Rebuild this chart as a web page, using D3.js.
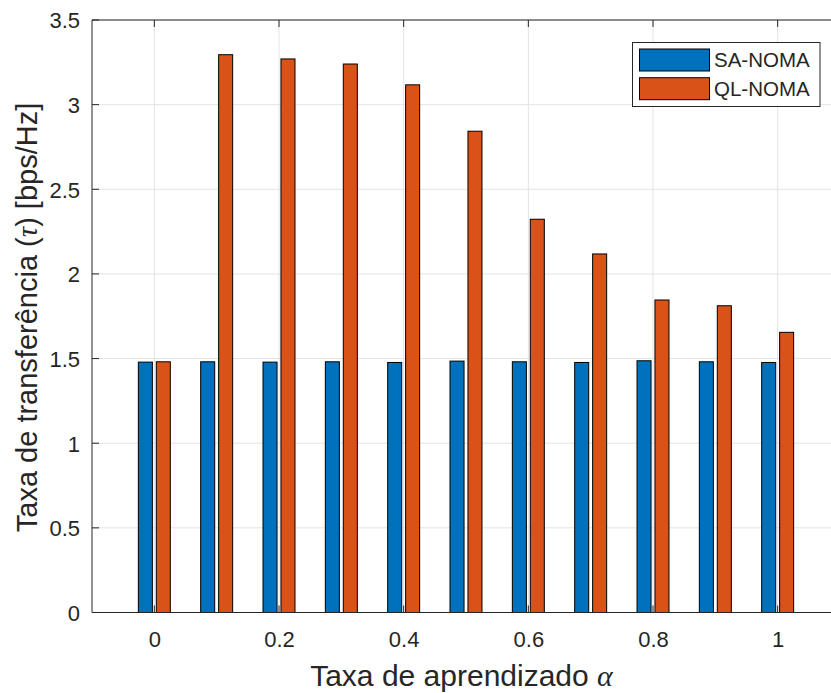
<!DOCTYPE html>
<html>
<head>
<meta charset="utf-8">
<script src="https://cdn.jsdelivr.net/npm/d3@7"></script>
<style>
  html, body { margin: 0; padding: 0; background: #fff; }
  svg { display: block; }
  text { font-family: "Liberation Sans", Arial, Helvetica, sans-serif; fill: #262626; }
</style>
</head>
<body>
<svg id="chart" width="831" height="693"></svg>
<script>
// Learning rate values on the x axis
const alphas = [0, 0.1, 0.2, 0.3, 0.4, 0.5, 0.6, 0.7, 0.8, 0.9, 1.0];
// Throughput (bps/Hz) per scheme
const saNoma = [1.479, 1.481, 1.479, 1.481, 1.477, 1.485, 1.481, 1.477, 1.487, 1.481, 1.477];
const qlNoma = [1.481, 3.295, 3.27, 3.24, 3.117, 2.843, 2.323, 2.118, 1.846, 1.812, 1.655];
const seriesNames = ["SA-NOMA", "QL-NOMA"];
const seriesColors = ["#0072BD", "#D95319"];
const xTicks = [0, 0.2, 0.4, 0.6, 0.8, 1];
const yTicks = [0, 0.5, 1, 1.5, 2, 2.5, 3, 3.5];

const svg = d3.select("#chart");
const pLeft = 92, pTop = 20, pRight = 840, pBottom = 612.5;

const x = d3.scaleLinear().domain([-0.1, 1.1]).range([pLeft, pRight]);
const y = d3.scaleLinear().domain([0, 3.5]).range([pBottom, pTop]);

// grid
const grid = svg.append("g");
grid.selectAll("line.gx").data(xTicks).join("line")
  .attr("x1", d => x(d)).attr("x2", d => x(d))
  .attr("y1", pTop).attr("y2", pBottom)
  .attr("stroke", "#e3e3e3").attr("stroke-width", 1);
grid.selectAll("line.gy").data(yTicks).join("line")
  .attr("x1", pLeft).attr("x2", pRight)
  .attr("y1", d => y(d)).attr("y2", d => y(d))
  .attr("stroke", "#e3e3e3").attr("stroke-width", 1);

// bars
const barW = 0.0225, off = 0.0144;
const groups = [saNoma, qlNoma];
groups.forEach((vals, si) => {
  const dx = si === 0 ? -off : off;
  svg.append("g").selectAll("rect").data(alphas).join("rect")
    .attr("x", (d) => x(d + dx - barW / 2))
    .attr("width", (d) => x(d + dx + barW / 2) - x(d + dx - barW / 2))
    .attr("y", (d, i) => y(vals[i]))
    .attr("height", (d, i) => y(0) - y(vals[i]))
    .attr("fill", seriesColors[si])
    .attr("stroke", "#000").attr("stroke-width", 1);
});

// axes
const axisColor = "#262626";
const xAxis = d3.axisBottom(x).tickValues(xTicks).tickSize(0).tickPadding(0).tickFormat(d3.format("~g"));
const gx = svg.append("g").attr("transform", `translate(0,${pBottom})`).call(xAxis);
gx.select(".domain").remove();
gx.selectAll("text").attr("y", 34).attr("dy", null).attr("font-size", 22)
  .style("font-family", '"Liberation Sans", Arial, sans-serif').attr("fill", axisColor);

const yAxis = d3.axisLeft(y).tickValues(yTicks).tickSize(0).tickFormat(d3.format("~g"));
const gy = svg.append("g").attr("transform", `translate(${pLeft},0)`).call(yAxis);
gy.select(".domain").remove();
gy.selectAll("text").attr("x", -12).attr("dy", "0.36em").attr("font-size", 22)
  .style("font-family", '"Liberation Sans", Arial, sans-serif').attr("fill", axisColor);

// axis box lines and inward ticks
const box = svg.append("g").attr("stroke", axisColor).attr("stroke-width", 1);
box.append("line").attr("x1", pLeft).attr("x2", pRight).attr("y1", pBottom).attr("y2", pBottom);
box.append("line").attr("x1", pLeft).attr("x2", pRight).attr("y1", pTop).attr("y2", pTop);
box.append("line").attr("x1", pLeft).attr("x2", pLeft).attr("y1", pTop).attr("y2", pBottom);
box.append("line").attr("x1", pRight).attr("x2", pRight).attr("y1", pTop).attr("y2", pBottom);
const tl = 7;
xTicks.forEach(t => {
  box.append("line").attr("x1", x(t)).attr("x2", x(t)).attr("y1", pBottom).attr("y2", pBottom - tl);
  box.append("line").attr("x1", x(t)).attr("x2", x(t)).attr("y1", pTop).attr("y2", pTop + tl);
});
yTicks.forEach(t => {
  box.append("line").attr("x1", pLeft).attr("x2", pLeft + tl).attr("y1", y(t)).attr("y2", y(t));
});

// axis labels
const xl = svg.append("text").attr("x", 461.5).attr("y", 686)
  .attr("text-anchor", "middle").attr("font-size", 30);
xl.append("tspan").text("Taxa de aprendizado ");
xl.append("tspan").attr("font-family", '"Liberation Serif", "DejaVu Serif", serif')
  .attr("font-style", "italic").text("α");

const yl = svg.append("text")
  .attr("transform", `translate(37,317.5) rotate(-90)`)
  .attr("text-anchor", "middle").attr("font-size", 29);
yl.append("tspan").text("Taxa de transferência (");
yl.append("tspan").attr("font-family", '"Liberation Serif", "DejaVu Serif", serif')
  .attr("font-style", "italic").text("τ");
yl.append("tspan").text(") [bps/Hz]");

// legend
const lg = svg.append("g").attr("transform", "translate(632.5,42.5)");
lg.append("rect").attr("width", 187.5).attr("height", 64)
  .attr("fill", "#fff").attr("stroke", axisColor).attr("stroke-width", 1);
seriesNames.forEach((name, i) => {
  const yy = 6.5 + i * 28.7;
  lg.append("rect").attr("x", 7).attr("y", yy).attr("width", 70).attr("height", 22)
    .attr("fill", seriesColors[i]).attr("stroke", "#000").attr("stroke-width", 1);
  lg.append("text").attr("x", 81.5).attr("y", yy + 11).attr("dy", "0.36em")
    .attr("font-size", 20.5).text(name);
});
</script>
</body>
</html>
